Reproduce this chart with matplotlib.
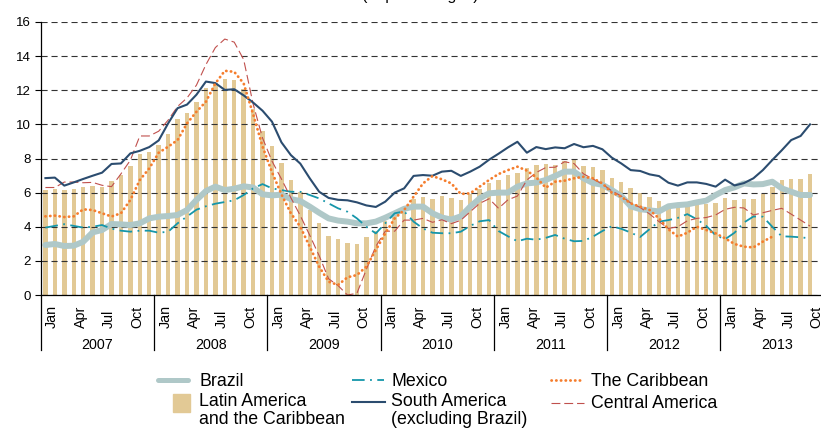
import matplotlib.pyplot as plt
from matplotlib.lines import Line2D
from matplotlib.patches import Rectangle
import numpy as np

plt.rcParams['font.family'] = ['Liberation Sans', 'DejaVu Sans']

# --- données (janvier 2007 à octobre 2013, mensuel) ---
years = ['2007', '2008', '2009', '2010', '2011', '2012', '2013']
month_names = ['Jan', 'Apr', 'Jul', 'Oct']

latam = [6.15, 6.19, 6.15, 6.21, 6.31, 6.39, 6.35, 6.68, 7.03, 7.58, 8.26, 8.38,
         8.79, 9.43, 10.33, 10.66, 11.33, 12.13, 12.45, 12.66, 12.6, 12.1, 10.9, 9.61,
         8.75, 7.73, 6.74, 6.05, 4.98, 4.24, 3.46, 3.26, 3.07, 2.99, 3.42, 3.75,
         4.35, 4.63, 5.0, 5.6, 5.76, 5.62, 5.81, 5.69, 5.57, 5.94, 6.21, 6.58,
         6.75, 7.05, 7.15, 7.45, 7.6, 7.65, 7.6, 7.85, 7.95, 7.57, 7.52, 7.32,
         6.87, 6.63, 6.28, 6.0, 5.76, 5.51, 5.25, 5.2, 5.42, 5.4, 5.35, 5.41,
         5.67, 5.57, 5.62, 5.62, 5.92, 6.34, 6.74, 6.8, 6.8, 7.09]

brazil = [2.93, 2.99, 2.87, 2.89, 3.12, 3.67, 3.81, 4.16, 4.14, 4.1, 4.2, 4.49,
          4.59, 4.63, 4.69, 4.98, 5.57, 6.09, 6.35, 6.15, 6.23, 6.37, 6.3, 5.9,
          5.84, 5.88, 5.62, 5.51, 5.18, 4.82, 4.49, 4.36, 4.3, 4.2, 4.2, 4.3,
          4.53, 4.79, 5.05, 5.18, 5.18, 4.79, 4.54, 4.42, 4.61, 5.18, 5.66, 5.96,
          6.0, 6.0, 6.35, 6.54, 6.59, 6.74, 6.98, 7.23, 7.23, 6.84, 6.56, 6.46,
          6.15, 5.8, 5.2, 5.03, 4.96, 4.9, 5.2, 5.27, 5.31, 5.43, 5.53, 5.86,
          6.15, 6.31, 6.54, 6.48, 6.5, 6.64, 6.25, 6.05, 5.86, 5.86]

mexico = [3.95, 4.05, 4.15, 4.05, 3.95, 4.0, 4.1, 3.89, 3.77, 3.71, 3.77, 3.77,
          3.65, 3.71, 4.2, 4.6, 5.0, 5.2, 5.35, 5.45, 5.55, 5.86, 6.25, 6.5,
          6.25, 6.15, 6.05, 6.05, 5.86, 5.66, 5.37, 5.08, 4.88, 4.49, 4.0, 3.61,
          4.2, 4.79, 4.9, 4.3, 3.9, 3.65, 3.62, 3.62, 3.71, 4.05, 4.32, 4.39,
          3.75, 3.44, 3.15, 3.3, 3.24, 3.35, 3.52, 3.3, 3.15, 3.17, 3.42, 3.75,
          4.03, 3.88, 3.66, 3.4, 3.86, 4.3, 4.39, 4.52, 4.74, 4.44, 4.05, 3.5,
          3.27, 3.65, 4.25, 4.6, 4.59, 4.0, 3.44, 3.42, 3.38, 3.32]

south_america = [6.85, 6.88, 6.41, 6.6, 6.8, 6.99, 7.17, 7.68, 7.71, 8.3, 8.45, 8.67,
                 9.06, 10.06, 10.95, 11.16, 11.74, 12.51, 12.42, 12.02, 12.06, 11.7, 11.28, 10.8,
                 10.16, 8.95, 8.2, 7.7, 6.84, 6.05, 5.69, 5.58, 5.55, 5.43, 5.25, 5.16,
                 5.47, 6.0, 6.25, 6.98, 7.03, 6.99, 7.23, 7.28, 6.98, 7.23, 7.52, 7.93,
                 8.28, 8.65, 8.98, 8.34, 8.67, 8.55, 8.65, 8.6, 8.85, 8.66, 8.74, 8.54,
                 8.05, 7.71, 7.32, 7.27, 7.07, 6.97, 6.58, 6.41, 6.6, 6.6, 6.51, 6.35,
                 6.76, 6.42, 6.56, 6.84, 7.32, 7.91, 8.48, 9.08, 9.32, 10.0]

central_america = [6.3, 6.3, 6.62, 6.62, 6.58, 6.6, 6.43, 6.35, 7.1, 7.9, 9.32, 9.32,
                   9.6, 10.25, 11.05, 11.55, 12.3, 13.5, 14.5, 15.0, 14.82, 13.8, 11.2, 9.2,
                   7.85, 6.8, 5.7, 4.65, 3.5, 2.3, 0.95, 0.55, 0.0, 0.1, 1.5, 2.85,
                   3.74, 3.74, 4.39, 4.39, 4.49, 4.26, 4.41, 4.18, 4.38, 4.88, 5.37, 5.64,
                   5.08, 5.58, 5.8, 6.74, 7.18, 7.47, 7.49, 7.81, 7.7, 7.1, 6.8, 6.5,
                   6.1, 5.8, 5.39, 5.13, 4.75, 4.3, 3.9, 4.0, 4.35, 4.49, 4.54, 4.69,
                   5.02, 5.14, 5.1, 4.69, 4.82, 4.96, 5.08, 4.74, 4.39, 4.04]

caribbean = [4.61, 4.65, 4.57, 4.61, 5.02, 4.98, 4.79, 4.6, 4.79, 5.57, 6.74, 7.42,
             8.34, 8.69, 9.08, 10.06, 10.74, 11.33, 12.4, 13.14, 13.08, 12.4, 10.6, 8.7,
             7.2, 5.9, 4.79, 4.0, 2.83, 1.66, 0.78, 0.59, 1.04, 1.17, 1.66, 2.64,
             3.61, 4.49, 4.98, 5.76, 6.54, 6.97, 6.78, 6.54, 5.92, 5.96, 6.35, 6.74,
             7.09, 7.32, 7.52, 7.29, 6.89, 6.29, 6.64, 6.7, 6.84, 6.93, 6.84, 6.54,
             6.0, 5.76, 5.37, 5.18, 4.98, 4.49, 3.85, 3.42, 3.65, 4.0, 3.81, 3.61,
             3.32, 2.99, 2.83, 2.79, 3.13, 3.42]

# --- styles ---
C_BAR = '#E2C995'
C_BRA = '#AFC8C8'
C_MEX = '#1596AA'
C_SAM = '#2B4C6F'
C_CAR = '#F57D2D'
C_CAM = '#C0504D'

sty_bra = dict(color=C_BRA, lw=4.3, solid_joinstyle='round', solid_capstyle='round')
sty_mex = dict(color=C_MEX, lw=1.3, linestyle=(0, (7, 3, 1, 3)))
sty_sam = dict(color=C_SAM, lw=1.5)
sty_car = dict(color=C_CAR, lw=2.0, linestyle=(0, (0.1, 1.6)), dash_capstyle='round')
sty_cam = dict(color=C_CAM, lw=0.8, linestyle=(0, (8, 3.5)))

W, H = 821, 428
fig = plt.figure(figsize=(W / 100, H / 100), dpi=100)
x0, y_bot, y_top = 40.7, 295, 22
ax = fig.add_axes([x0 / W, (H - y_bot) / H, (W - x0) / W, (y_bot - y_top) / H])

x = np.arange(len(latam))
ax.bar(x, latam, width=0.47, color=C_BAR, zorder=1)
ax.plot(x, brazil, zorder=3, **sty_bra)
ax.plot(x, mexico, zorder=3, **sty_mex)
ax.plot(x, central_america, zorder=3, **sty_cam)
ax.plot(x, south_america, zorder=3, **sty_sam)
ax.plot(np.arange(len(caribbean)), caribbean, zorder=3, **sty_car)

month_w = 9.44
ax.set_xlim(-0.5, (W - x0) / month_w - 0.5)
ax.set_ylim(0, 16)
ax.set_yticks(range(0, 17, 2))
ax.tick_params(axis='y', labelsize=9.5, length=4, width=0.8, direction='out', pad=3)
ax.yaxis.grid(True, color='#333333', lw=0.8, linestyle=(0, (5.5, 3.5)))
ax.set_axisbelow(False)
ax.set_xticks([])
for s in ['top', 'right']:
    ax.spines[s].set_visible(False)
for s in ['left', 'bottom']:
    ax.spines[s].set_linewidth(0.9)
    ax.spines[s].set_zorder(4)

# axe des x : mois, années et séparateurs
trans = ax.get_xaxis_transform()
px = 1.0 / (y_bot - y_top)
for k, yr in enumerate(years):
    start = 12 * k
    for m, name in zip((0, 3, 6, 9), month_names):
        ax.text(start + m + 0.72, -33 * px, name, rotation=90, ha='center', va='bottom',
                fontsize=10.3, transform=trans, clip_on=False)
    ax.text(start + 5.5, -50 * px, yr, ha='center', va='center', fontsize=10.3,
            transform=trans, clip_on=False)
    ax.plot([start - 0.5, start - 0.5], [0, -55 * px], color='black', lw=0.9,
            transform=trans, clip_on=False)

# titre (coupé en haut de l'image)
fig.text(420 / W, 1 + 0.3 / H, '(In percentages)', ha='center', va='baseline', fontsize=11.5)

# légende
def fx(v):
    return v / W

def fy(v):
    return 1 - v / H

def leg_line(x1, x2, y, sty):
    fig.add_artist(Line2D([fx(x1), fx(x2)], [fy(y), fy(y)], transform=fig.transFigure, **sty))

def leg_text(xp, yp, s):
    fig.text(fx(xp), fy(yp), s, ha='left', va='center', fontsize=12.8)

leg_line(158, 188, 380, dict(sty_bra, lw=3.6))
leg_text(199, 381, 'Brazil')
fig.add_artist(Rectangle((fx(173), fy(412)), fx(17), 18 / H, transform=fig.transFigure,
                         color=C_BAR))
leg_text(199, 402, 'Latin America')
leg_text(199, 420, 'and the Caribbean')

leg_line(352, 384, 380, sty_mex)
leg_text(391, 381, 'Mexico')
leg_line(352, 385, 402, sty_sam)
leg_text(391, 402, 'South America')
leg_text(391, 420, '(excluding Brazil)')

leg_line(551, 584, 380, sty_car)
leg_text(591, 381, 'The Caribbean')
leg_line(551, 584, 403, sty_cam)
leg_text(591, 404, 'Central America')

fig.savefig('out.png', dpi=100)
